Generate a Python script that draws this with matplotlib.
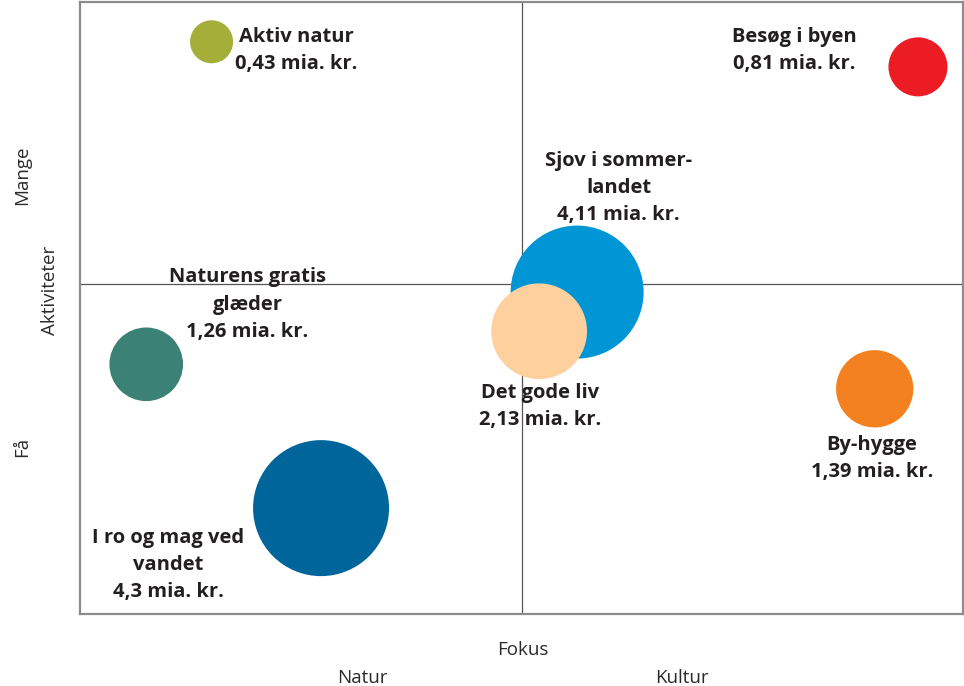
import matplotlib
matplotlib.use("Agg")
import matplotlib.pyplot as plt

plt.rcParams["font.family"] = ["Open Sans", "DejaVu Sans"]

# segments: name, spend (mia. kr.), position on the Fokus (x) and Aktiviteter (y) scales
labels = [
    "Aktiv natur\n0,43 mia. kr.",
    "Besøg i byen\n0,81 mia. kr.",
    "Sjov i sommer-\nlandet\n4,11 mia. kr.",
    "Det gode liv\n2,13 mia. kr.",
    "Naturens gratis\nglæder\n1,26 mia. kr.",
    "By-hygge\n1,39 mia. kr.",
    "I ro og mag ved\nvandet\n4,3 mia. kr.",
]
spend = [0.43, 0.81, 4.11, 2.13, 1.26, 1.39, 4.3]
fokus = [14.9, 94.9, 56.3, 52.0, 7.5, 90.0, 27.3]
aktiviteter = [93.5, 89.4, 52.6, 46.2, 40.8, 36.8, 17.3]
colors = ["#a4ae38", "#ec1c24", "#0096d6", "#fdd09e", "#3b8175", "#f48120", "#00659b"]

# label offsets from bubble centre, in points
offsets = [(61, -6.5), (-89, 11.5), (30, 75), (1, -54), (73, 43), (-2, -50), (-110, -41)]

fig = plt.figure(figsize=(9.64, 6.86), dpi=100)
ax = fig.add_axes([80 / 964, 72 / 686, 883 / 964, 612 / 686])
ax.set_xlim(0, 100)
ax.set_ylim(0, 100)
ax.set_xticks([])
ax.set_yticks([])
for sp in ax.spines.values():
    sp.set_color("#8c8c8c")
    sp.set_linewidth(1.6)

ax.axvline(50, color="#555555", lw=0.9, zorder=1)
ax.axhline(54, color="#555555", lw=0.9, zorder=1)

for i in range(len(spend)):
    ax.scatter(fokus[i], aktiviteter[i], s=spend[i] * 2230, color=colors[i],
               edgecolors="none", zorder=2 + i)
    ax.annotate(labels[i], (fokus[i], aktiviteter[i]), xytext=offsets[i],
                textcoords="offset points", ha="center", va="center",
                fontsize=14.5, fontweight="bold", color="#231f20",
                linespacing=1.48, zorder=20)

tc = "#2a2a2a"
fs = 13.5
fig.text(22 / 964, 1 - 175 / 686, "Mange", rotation=90, ha="center", va="center", fontsize=fs, color=tc)
fig.text(50 / 964, 1 - 290 / 686, "Aktiviteter", rotation=90, ha="center", va="center", fontsize=fs, color=tc)
fig.text(22 / 964, 1 - 447 / 686, "Få", rotation=90, ha="center", va="center", fontsize=fs, color=tc)
fig.text(523 / 964, 1 - 650 / 686, "Fokus", ha="center", va="center", fontsize=fs, color=tc)
fig.text(362 / 964, 1 - 678 / 686, "Natur", ha="center", va="center", fontsize=fs, color=tc)
fig.text(682 / 964, 1 - 678 / 686, "Kultur", ha="center", va="center", fontsize=fs, color=tc)

fig.savefig("out.png", dpi=100)
